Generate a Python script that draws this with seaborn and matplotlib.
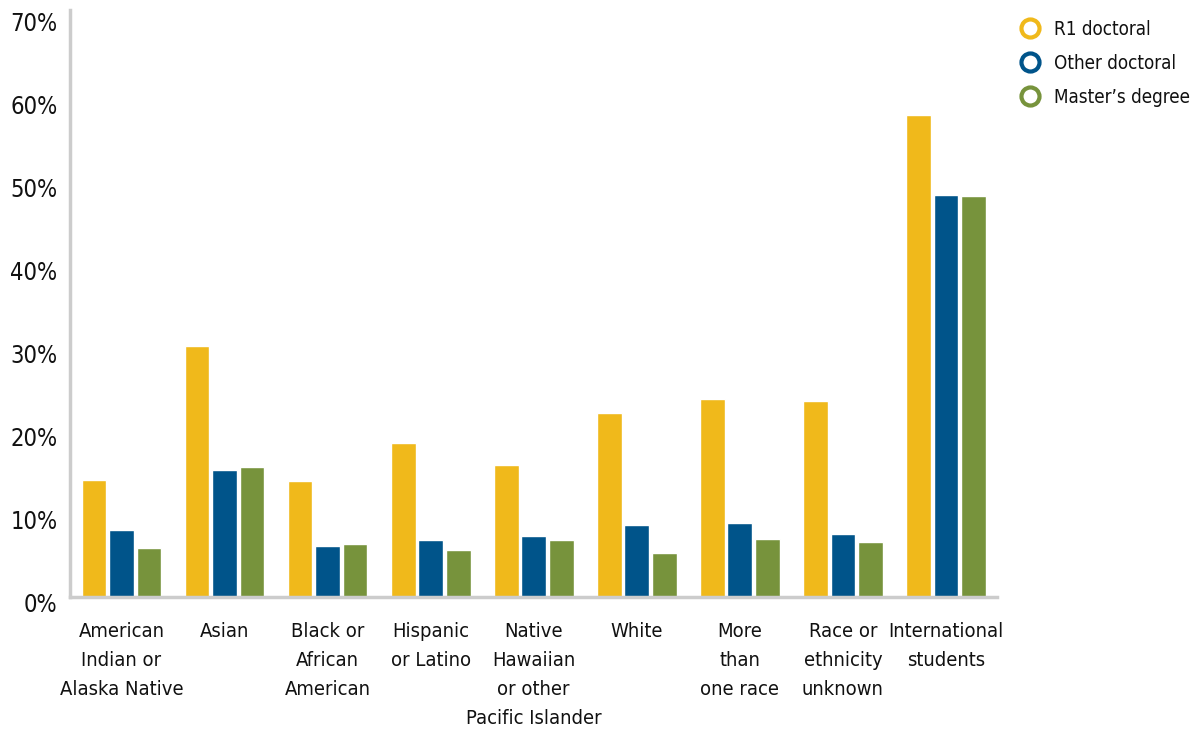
import matplotlib
matplotlib.use("Agg")
import matplotlib.pyplot as plt
from matplotlib import font_manager
from matplotlib.lines import Line2D
import matplotlib.transforms as mtransforms
import seaborn as sns
import pandas as pd

categories = [
    "American\nIndian or\nAlaska Native",
    "Asian",
    "Black or\nAfrican\nAmerican",
    "Hispanic\nor Latino",
    "Native\nHawaiian\nor other\nPacific Islander",
    "White",
    "More\nthan\none race",
    "Race or\nethnicity\nunknown",
    "International\nstudents",
]
series_names = ["R1 doctoral", "Other doctoral", "Master\u2019s degree"]
r1_doctoral = [14.1, 30.2, 14.0, 18.6, 15.9, 22.2, 23.9, 23.6, 58.1]
other_doctoral = [8.1, 15.3, 6.1, 6.9, 7.3, 8.7, 8.9, 7.6, 48.4]
masters_degree = [5.9, 15.7, 6.4, 5.7, 6.9, 5.3, 7.0, 6.6, 48.3]
y_ticks = [0, 10, 20, 30, 40, 50, 60, 70]
y_tick_labels = ["0%", "10%", "20%", "30%", "40%", "50%", "60%", "70%"]

colors = ["#F0B91B", "#00548A", "#77933C"]

sns.set_theme(style="white")

# find a condensed font file
cond_path = None
for f in font_manager.fontManager.ttflist:
    if f.name == "Liberation Sans Narrow" and f.weight in (400, "normal") and f.style == "normal":
        cond_path = f.fname
        break
if cond_path is None:
    for f in font_manager.fontManager.ttflist:
        if f.fname.endswith("DejaVuSansCondensed.ttf"):
            cond_path = f.fname
            break
plt.rcParams["font.family"] = ["DejaVu Sans"]

def fp(size):
    if cond_path:
        return font_manager.FontProperties(fname=cond_path, size=size)
    return font_manager.FontProperties(family="DejaVu Sans", stretch="condensed", size=size)

rows = []
for cat, a, b, c in zip(categories, r1_doctoral, other_doctoral, masters_degree):
    rows.append((cat, series_names[0], a))
    rows.append((cat, series_names[1], b))
    rows.append((cat, series_names[2], c))
df = pd.DataFrame(rows, columns=["category", "series", "value"])

fig = plt.figure(figsize=(11.96, 7.29), dpi=100)
ax = fig.add_axes([0.0585, 0.181, 0.7755, 0.797])
sns.barplot(data=df, x="category", y="value", hue="series", palette=colors,
            width=0.8, gap=0.1, ax=ax, legend=False, saturation=1)

ax.set_ylim(0, 70)
ax.set_xlim(-0.5, len(categories) - 0.5)
ax.set_yticks(y_ticks)
ax.set_yticklabels(y_tick_labels, fontproperties=fp(17), color="#111111")
ax.set_xticks(range(len(categories)))
ax.set_xticklabels(categories, fontproperties=fp(14.5), color="#111111",
                   linespacing=1.66, va="top")
ax.tick_params(axis="x", pad=18, length=0)
ax.tick_params(axis="y", pad=9, length=0)
ax.set_xlabel("")
ax.set_ylabel("")
for s in ["top", "right"]:
    ax.spines[s].set_visible(False)
for s in ["left", "bottom"]:
    ax.spines[s].set_color("#CCCCCC")
    ax.spines[s].set_linewidth(2.5)
ax.spines["left"].set_bounds(0, 70.7)

offset = mtransforms.ScaledTranslation(0, -4 / 72, fig.dpi_scale_trans)
for lab in ax.get_yticklabels():
    lab.set_transform(lab.get_transform() + offset)

handles = [Line2D([0], [0], marker="o", linestyle="none", markersize=13,
                  markerfacecolor="white", markeredgecolor=col, markeredgewidth=3)
           for col in colors]
leg = fig.legend(handles, series_names, loc="upper left", bbox_to_anchor=(0.8395, 0.996),
                 frameon=False, prop=fp(13.5), handletextpad=0.75, labelspacing=0.8,
                 handlelength=1.0)
for t in leg.get_texts():
    t.set_color("#111111")

fig.savefig("out.png", dpi=100)
